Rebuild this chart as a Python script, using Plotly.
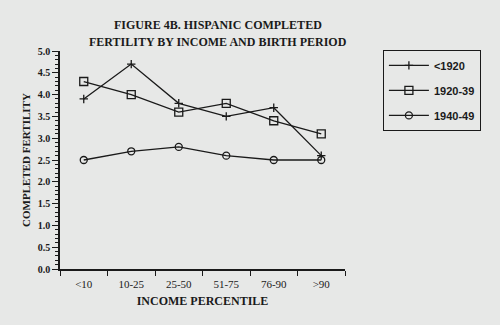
import plotly.graph_objects as go

categories = ["<10", "10-25", "25-50", "51-75", "76-90", ">90"]
series_names = ["<1920", "1920-39", "1940-49"]
s1920 = [3.9, 4.7, 3.8, 3.5, 3.7, 2.6]
s1939 = [4.3, 4.0, 3.6, 3.8, 3.4, 3.1]
s1949 = [2.5, 2.7, 2.8, 2.6, 2.5, 2.5]
yticks = [0.0, 0.5, 1.0, 1.5, 2.0, 2.5, 3.0, 3.5, 4.0, 4.5, 5.0]
title_lines = ["FIGURE 4B. HISPANIC COMPLETED", "FERTILITY BY INCOME AND BIRTH PERIOD"]

bg = "#e7e8e7"
ink = "#1a1a1a"
serif = "Liberation Serif"

fig = go.Figure()
symbols = ["cross-thin-open", "square-open", "circle-open"]
sizes = [6, 8, 7]
for name, vals, sym, sz in zip(series_names, [s1920, s1939, s1949], symbols, sizes):
    fig.add_trace(go.Scatter(
        x=categories, y=vals, name=name, mode="lines+markers",
        line=dict(color=ink, width=1.3),
        marker=dict(symbol=sym, size=sz, color=ink, line=dict(color=ink, width=1.3)),
        legendgroup=name,
    ))

for i, t in enumerate(title_lines):
    fig.add_annotation(
        text=t, xref="paper", yref="paper", showarrow=False,
        x=(218 - 60) / 285, y=1 + (51 - (25 + 17 * i)) / 218,
        xanchor="center", yanchor="middle",
        font=dict(family=serif, size=12, color=ink, weight="bold"),
    )

fig.update_layout(
    width=500, height=325,
    paper_bgcolor=bg, plot_bgcolor=bg,
    margin=dict(l=60, r=155, t=51, b=56),
    showlegend=True,
    legend=dict(
        x=1.133, y=1.005, xanchor="left", yanchor="top",
        bordercolor=ink, borderwidth=1, bgcolor=bg,
        font=dict(family="Liberation Sans", size=11, color=ink, weight="bold"),
        traceorder="grouped", tracegroupgap=6,
        itemwidth=40,
    ),
    xaxis=dict(
        type="category", categoryorder="array", categoryarray=categories,
        range=[-0.5, 5.5], tickson="boundaries",
        showline=True, linecolor=ink, linewidth=1.5,
        ticks="outside", ticklen=5, tickcolor=ink,
        ticklabelstandoff=4,
        showgrid=False, zeroline=False,
        tickfont=dict(family=serif, size=11, color=ink),
        title=dict(text="INCOME PERCENTILE", standoff=8,
                   font=dict(family=serif, size=12, color=ink, weight="bold")),
    ),
    yaxis=dict(
        range=[0, 5.0], tickvals=yticks, ticktext=[f"{v:.1f}" for v in yticks],
        showline=True, linecolor=ink, linewidth=1.5,
        ticks="outside", ticklen=6, tickcolor=ink,
        minor=dict(dtick=0.1, ticks="outside", ticklen=3, tickcolor=ink, showgrid=False),
        showgrid=False, zeroline=False,
        tickfont=dict(family=serif, size=10, color=ink, weight="bold"),
        title=dict(text="COMPLETED FERTILITY", standoff=5,
                   font=dict(family=serif, size=11, color=ink, weight="bold")),
    ),
)

fig.write_html("out.html")
